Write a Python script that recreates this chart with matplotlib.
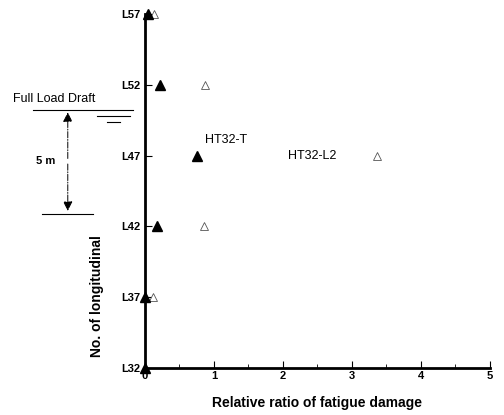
import matplotlib.pyplot as plt

# longitudinal positions (L32 ... L57)
posiciones = [32, 37, 42, 47, 52, 57]
etiquetas = ['L32', 'L37', 'L42', 'L47', 'L52', 'L57']

# relative ratio of fatigue damage
ht32_t = [0.0, 0.0, 0.17, 0.75, 0.22, 0.05]
ht32_l2 = [0.0, 0.12, 0.86, 3.36, 0.87, 0.13]

plt.rcParams['font.family'] = ['Liberation Sans', 'DejaVu Sans']

fig = plt.figure(figsize=(5.04, 4.15), dpi=100)
ax = fig.add_axes([0.2877, 0.1133, 0.684, 0.853])

ax.plot(ht32_l2, posiciones, linestyle='none', marker='^', markersize=6,
        markerfacecolor='white', markeredgecolor='#555555', markeredgewidth=0.6,
        clip_on=False, zorder=3)
ax.plot(ht32_t, posiciones, linestyle='none', marker='^', markersize=7,
        color='black', clip_on=False, zorder=4)

ax.set_xlim(0, 5)
ax.set_ylim(32, 57)
ax.set_xticks([0, 1, 2, 3, 4, 5])
ax.set_xticks([0.5, 1.5, 2.5, 3.5, 4.5], minor=True)
ax.set_yticks(posiciones)
ax.set_yticklabels(etiquetas)

for lado in ['top', 'right']:
    ax.spines[lado].set_visible(False)
for lado in ['left', 'bottom']:
    ax.spines[lado].set_linewidth(2)

ax.tick_params(axis='both', direction='in', length=5, width=0.8, labelsize=8)
ax.tick_params(axis='x', pad=2)
ax.tick_params(axis='x', which='minor', direction='in', length=3, width=0.6)
for t in ax.get_xticklabels() + ax.get_yticklabels():
    t.set_fontweight('bold')

ax.set_xlabel('Relative ratio of fatigue damage', fontsize=10, fontweight='bold')
ax.xaxis.set_label_coords(0.5, -0.08)
ax.set_ylabel('No. of longitudinal', fontsize=10, fontweight='bold')
ax.yaxis.set_label_coords(-0.12, 0.203)

# series labels
ax.text(0.87, 48.1, 'HT32-T', fontsize=9, va='center', ha='left')
ax.text(2.07, 47.0, 'HT32-L2', fontsize=9, va='center', ha='left')

# full load draft annotation, left of the axis
ax.text(-1.91, 51.0, 'Full Load Draft', fontsize=9, va='center', ha='left',
        clip_on=False)
ax.plot([-1.62, -0.17], [50.25, 50.25], color='black', lw=0.8, clip_on=False)
ax.plot([-0.7, -0.22], [49.8, 49.8], color='black', lw=0.8, clip_on=False)
ax.plot([-0.55, -0.36], [49.4, 49.4], color='black', lw=0.8, clip_on=False)
ax.plot([-1.5, -0.75], [42.9, 42.9], color='black', lw=0.8, clip_on=False)
ax.annotate('', xy=(-1.12, 50.25), xytext=(-1.12, 46.6), annotation_clip=False,
            arrowprops=dict(arrowstyle='-|>', color='black', lw=0.7,
                            linestyle='-.', mutation_scale=14))
ax.annotate('', xy=(-1.12, 42.9), xytext=(-1.12, 46.6), annotation_clip=False,
            arrowprops=dict(arrowstyle='-|>', color='black', lw=0.7,
                            linestyle='-.', mutation_scale=14))
ax.text(-1.58, 46.6, '5 m', fontsize=8, fontweight='bold', va='center',
        ha='left', clip_on=False)

fig.savefig('out.png', dpi=100)
